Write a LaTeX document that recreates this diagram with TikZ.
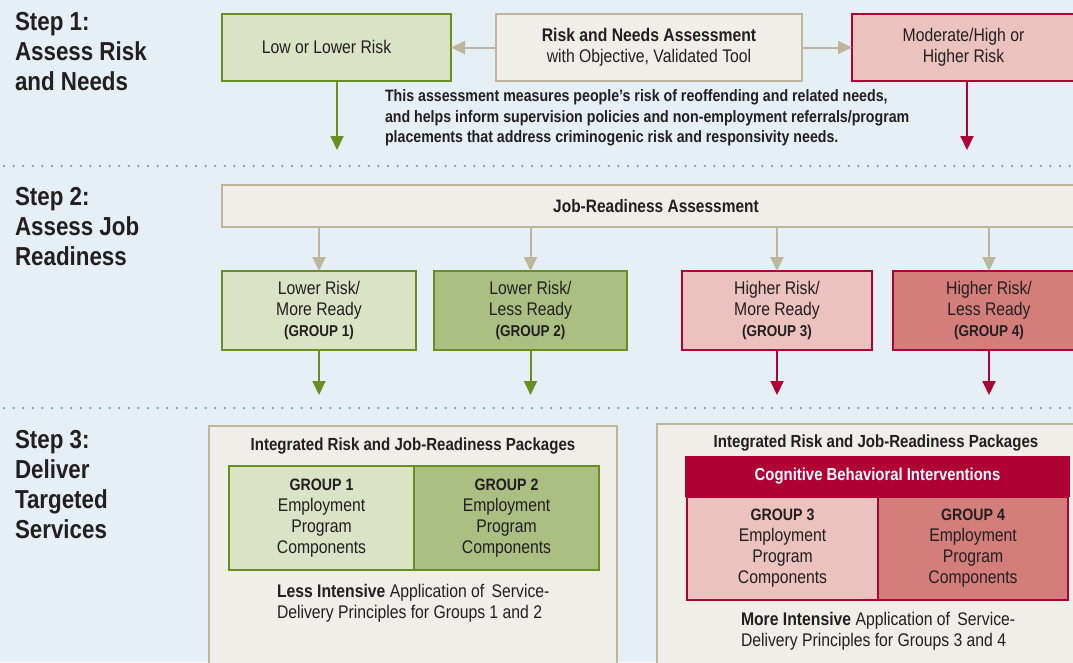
\documentclass[tikz,border=0pt]{standalone}
\usepackage{fontspec}
\setmainfont{Liberation Sans}[FakeStretch=0.86]
\usetikzlibrary{arrows.meta}
\definecolor{bg}{HTML}{E6EFF6}
\definecolor{beigefill}{HTML}{EFEEE9}
\definecolor{beigeline}{HTML}{BDB59C}
\definecolor{greenlight}{HTML}{DAE3C6}
\definecolor{greendark}{HTML}{ACBF82}
\definecolor{greenline}{HTML}{6B8E23}
\definecolor{pinklight}{HTML}{EBC2BE}
\definecolor{pinkdark}{HTML}{D37E7A}
\definecolor{crimson}{HTML}{AE0034}
\definecolor{txt}{HTML}{231F20}
\definecolor{dotcol}{HTML}{7F9FAA}
\newcommand\myfs[2]{\fontsize{#1}{#2}\selectfont}
\tikzset{
  base/.style={inner sep=0pt, outer sep=0pt, text=txt, align=center},
  steplbl/.style={base, align=left, font=\myfs{26}{30}\bfseries},
  beigebox/.style={base, draw=beigeline, fill=beigefill, line width=2pt},
  gbox1/.style={base, draw=greenline, fill=greenlight, line width=2pt},
  gbox2/.style={base, draw=greenline, fill=greendark, line width=2pt},
  pbox1/.style={base, draw=crimson, fill=pinklight, line width=2pt},
  pbox2/.style={base, draw=crimson, fill=pinkdark, line width=2pt},
  body/.style={font=\myfs{18.3}{21}},
  tip/.style={-{Triangle[length=14pt,width=13pt]}, line width=2pt},
  barrow/.style={tip, draw=beigeline, fill=beigeline},
  garrow/.style={tip, draw=greenline, fill=greenline},
  parrow/.style={tip, draw=crimson, fill=crimson},
  dotrule/.style={draw=dotcol, line width=2.5pt, line cap=round, dash pattern=on 0pt off 9.6pt},
}
\begin{document}
\begin{tikzpicture}[x=1pt,y=-1pt]
\useasboundingbox (0,0) rectangle (1073,662);
\clip (0,0) rectangle (1073,662);
\fill[bg] (0,0) rectangle (1073,662);

% step labels
\node[steplbl, anchor=west] (s1) at (15,52) {Step 1:\\Assess Risk\\and Needs};
\node[steplbl, anchor=west] (s2) at (15,227) {Step 2:\\Assess Job\\Readiness};
\node[steplbl, anchor=west] (s3) at (15,485) {Step 3:\\Deliver\\Targeted\\Services};

% dotted separators
\coordinate (d1l) at (4,166); \coordinate (d1r) at (1073,166);
\coordinate (d2l) at (4,408); \coordinate (d2r) at (1073,408);
\draw[dotrule] (d1l) -- (d1r);
\draw[dotrule] (d2l) -- (d2r);

% step 1
\node[gbox1, body, minimum width=229pt, minimum height=67pt] (low) at (336.5,47.5) {\raisebox{2pt}{\hspace*{-20pt}Low or Lower Risk}};
\node[beigebox, body, minimum width=306pt, minimum height=67pt] (rna) at (649,47.5) {\textbf{Risk and Needs Assessment}\\with Objective, Validated Tool};
\node[pbox1, body, minimum width=223pt, minimum height=67pt] (mod) at (963.5,47.5) {Moderate/High or\\Higher Risk};
\draw[barrow] (rna.west) -- (low.east);
\draw[barrow] (rna.east) -- (mod.west);
\coordinate (c1) at (337,150);
\coordinate (c2) at (967,150);
\draw[garrow] (low.south -| c1) -- (c1);
\draw[parrow] (mod.south -| c2) -- (c2);
\node[base, align=left, anchor=north west, font=\myfs{16.5}{20.5}\bfseries] (para) at (385,90)
 {This assessment measures people's risk of reoffending and related needs,\\
  and helps inform supervision policies and non-employment referrals/program\\
  placements that address criminogenic risk and responsivity needs.};

% step 2
\node[beigebox, font=\myfs{18}{20}\bfseries, minimum width=868pt, minimum height=42pt] (jra) at (656,206) {Job-Readiness Assessment};
\node[gbox1, body, minimum width=194pt, minimum height=79pt] (g1) at (319,310.5) {Lower Risk/\\More Ready\\{\myfs{15.7}{21}\bfseries(GROUP 1)}};
\node[gbox2, body, minimum width=193pt, minimum height=79pt] (g2) at (530.5,310.5) {Lower Risk/\\Less Ready\\{\myfs{15.7}{21}\bfseries(GROUP 2)}};
\node[pbox1, body, minimum width=190pt, minimum height=79pt] (g3) at (777,310.5) {Higher Risk/\\More Ready\\{\myfs{15.7}{21}\bfseries(GROUP 3)}};
\node[pbox2, body, minimum width=192pt, minimum height=79pt] (g4) at (989,310.5) {Higher Risk/\\Less Ready\\{\myfs{15.7}{21}\bfseries(GROUP 4)}};
\foreach \g in {g1,g2,g3,g4} {\draw[barrow] (jra.south -| \g.north) -- (\g.north);}
\coordinate (e1) at (319,395);
\coordinate (e2) at (530.5,395);
\coordinate (e3) at (777,395);
\coordinate (e4) at (989,395);
\draw[garrow] (g1.south) -- (e1);
\draw[garrow] (g2.south) -- (e2);
\draw[parrow] (g3.south) -- (e3);
\draw[parrow] (g4.south) -- (e4);

% step 3 left package
\node[beigebox, minimum width=408pt, minimum height=274pt] (pk1) at (413,563) {};
\node[base, font=\myfs{17.5}{20}\bfseries] (t1) at (413,446) {Integrated Risk and Job-Readiness Packages};
\node[gbox1, body, minimum width=185pt, minimum height=104pt] (c1g) at (321.5,518) {{\myfs{16.5}{21}\bfseries GROUP 1}\\Employment\\Program\\Components};
\node[gbox2, body, minimum width=185pt, minimum height=104pt] (c2g) at (506.5,518) {{\myfs{16.5}{21}\bfseries GROUP 2}\\Employment\\Program\\Components};
\node[base, body, align=left, anchor=north west] (b1) at (277,584) {\textbf{Less Intensive} Application of\, Service-\\Delivery Principles for Groups 1 and 2};

% step 3 right package
\node[beigebox, minimum width=438pt, minimum height=276pt] (pk2) at (876,562) {};
\node[base, font=\myfs{17.5}{20}\bfseries] (t2) at (876,443) {Integrated Risk and Job-Readiness Packages};
\node[base, draw=crimson, fill=crimson, line width=2pt, minimum width=383pt, minimum height=39pt, text=white, font=\myfs{17.3}{20}\bfseries] (cbi) at (877.5,476.5) {Cognitive Behavioral Interventions};
\node[pbox1, body, minimum width=191pt, minimum height=103pt] (c3g) at (782.5,548.5) {{\myfs{16.5}{21}\bfseries GROUP 3}\\Employment\\Program\\Components};
\node[pbox2, body, minimum width=190pt, minimum height=103pt] (c4g) at (973,548.5) {{\myfs{16.5}{21}\bfseries GROUP 4}\\Employment\\Program\\Components};
\node[base, body, align=left, anchor=north west] (b2) at (741,612) {\textbf{More Intensive} Application of\, Service-\\Delivery Principles for Groups 3 and 4};
\end{tikzpicture}
\end{document}
